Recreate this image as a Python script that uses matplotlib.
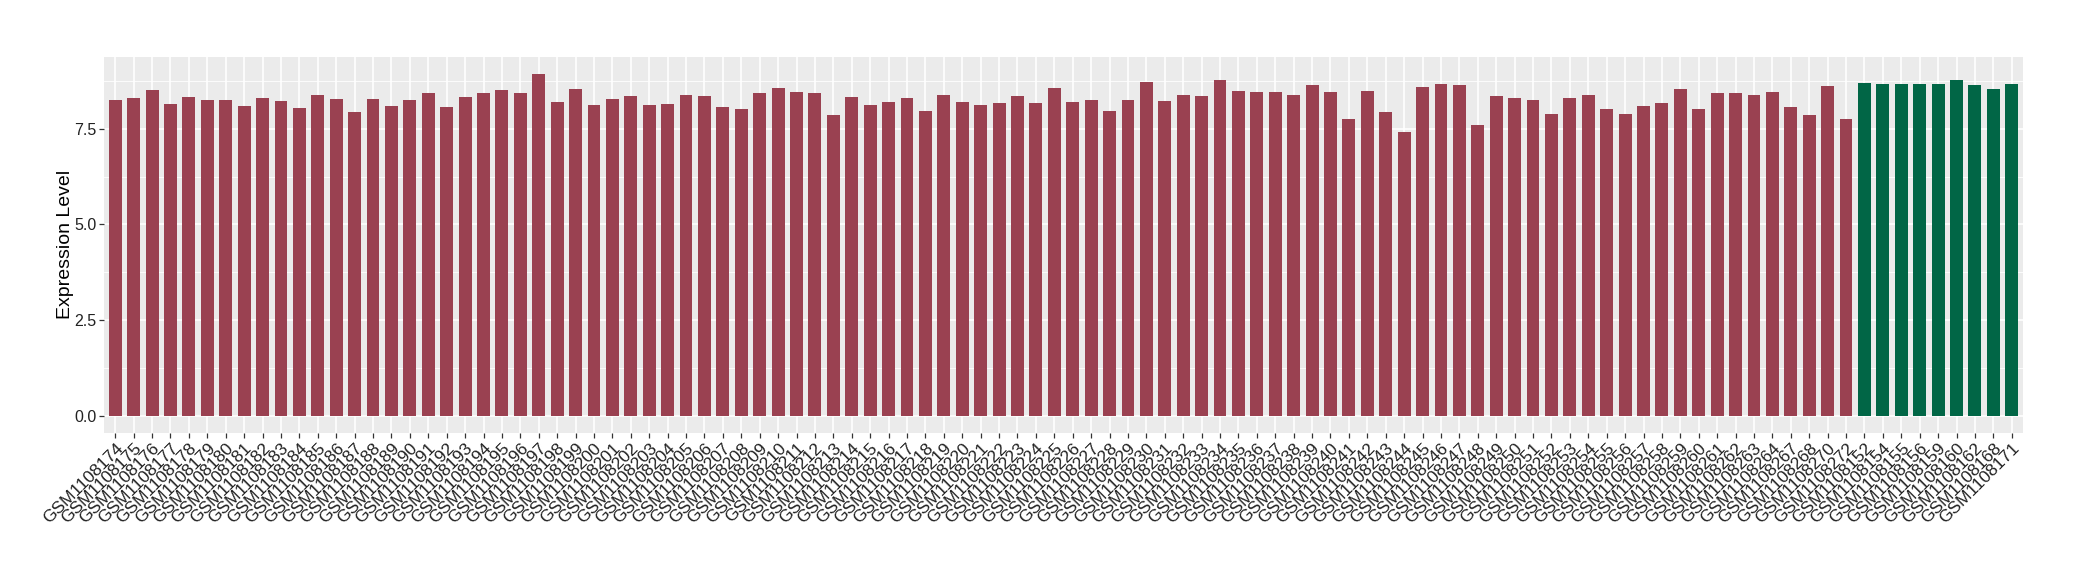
import matplotlib
matplotlib.use("Agg")
import matplotlib.pyplot as plt
import numpy as np

plt.rcParams['font.family'] = ['Liberation Sans', 'DejaVu Sans']

# sample ids: first group (red), second group (green)
red_ids = [f"GSM1108{n}" for n in range(174, 265)] + \
          ["GSM1108267", "GSM1108268", "GSM1108270", "GSM1108272"]
green_ids = ["GSM1108152", "GSM1108154", "GSM1108155", "GSM1108156",
             "GSM1108159", "GSM1108160", "GSM1108162", "GSM1108168",
             "GSM1108171"]

red_vals = [
    8.26, 8.31, 8.52, 8.16, 8.34, 8.26, 8.26, 8.10, 8.31, 8.23,
    8.05, 8.39, 8.29, 7.95, 8.29, 8.10, 8.26, 8.44, 8.08, 8.34,
    8.44, 8.52, 8.44, 8.94, 8.21, 8.55, 8.13, 8.29, 8.37, 8.13,
    8.16, 8.39, 8.37, 8.08, 8.03, 8.44, 8.57, 8.47, 8.44, 7.87,
    8.34, 8.13, 8.21, 8.31, 7.97, 8.39, 8.21, 8.13, 8.18, 8.37,
    8.18, 8.57, 8.21, 8.26, 7.97, 8.26, 8.73, 8.23, 8.39, 8.37,
    8.78, 8.50, 8.47, 8.47, 8.39, 8.65, 8.47, 7.77, 8.50, 7.95,
    7.43, 8.60, 8.68, 8.65, 7.61, 8.37, 8.31, 8.26, 7.90, 8.31,
    8.39, 8.03, 7.90, 8.10, 8.18, 8.55, 8.03, 8.44, 8.44, 8.39,
    8.47, 8.08, 7.87, 8.63, 7.77,
]
green_vals = [8.70, 8.68, 8.68, 8.68, 8.68, 8.78, 8.65, 8.55, 8.68]

labels = red_ids + green_ids
values = red_vals + green_vals
colors = ['#9A4151'] * len(red_vals) + ['#016646'] * len(green_vals)

fig = plt.figure(figsize=(20.8, 5.8), dpi=100)
ax = fig.add_axes([0.0501, 0.254, 0.9224, 0.6482])
ax.set_facecolor('#EBEBEB')

x = np.arange(len(labels))
ax.bar(x, values, width=0.7, color=colors, zorder=3)

n = len(labels)
ax.set_xlim(-0.6, n - 1 + 0.6)
ymax = max(values)
ax.set_ylim(-0.05 * ymax, ymax * 1.05)

ax.set_yticks([0, 2.5, 5.0, 7.5])
ax.set_yticklabels(['0.0', '2.5', '5.0', '7.5'])
ax.set_yticks([1.25, 3.75, 6.25, 8.75], minor=True)
ax.set_xticks(x)
ax.set_xticklabels(labels, rotation=45, ha='right', va='top',
                   rotation_mode='anchor', fontsize=12.5, color='#222222')

ax.grid(which='major', color='white', linewidth=1.2, zorder=0)
ax.grid(which='minor', axis='y', color='white', linewidth=0.6, zorder=0)
ax.set_axisbelow(True)

ax.tick_params(axis='both', which='major', length=3.5, width=0.9,
               color='#333333', labelcolor='#222222', pad=2)
ax.tick_params(axis='y', which='major', labelsize=11.5)
ax.tick_params(axis='y', which='minor', length=0)
for s in ax.spines.values():
    s.set_visible(False)

ax.set_ylabel('Expression Level', fontsize=14, labelpad=0.5)

fig.savefig('out.png', dpi=100)
